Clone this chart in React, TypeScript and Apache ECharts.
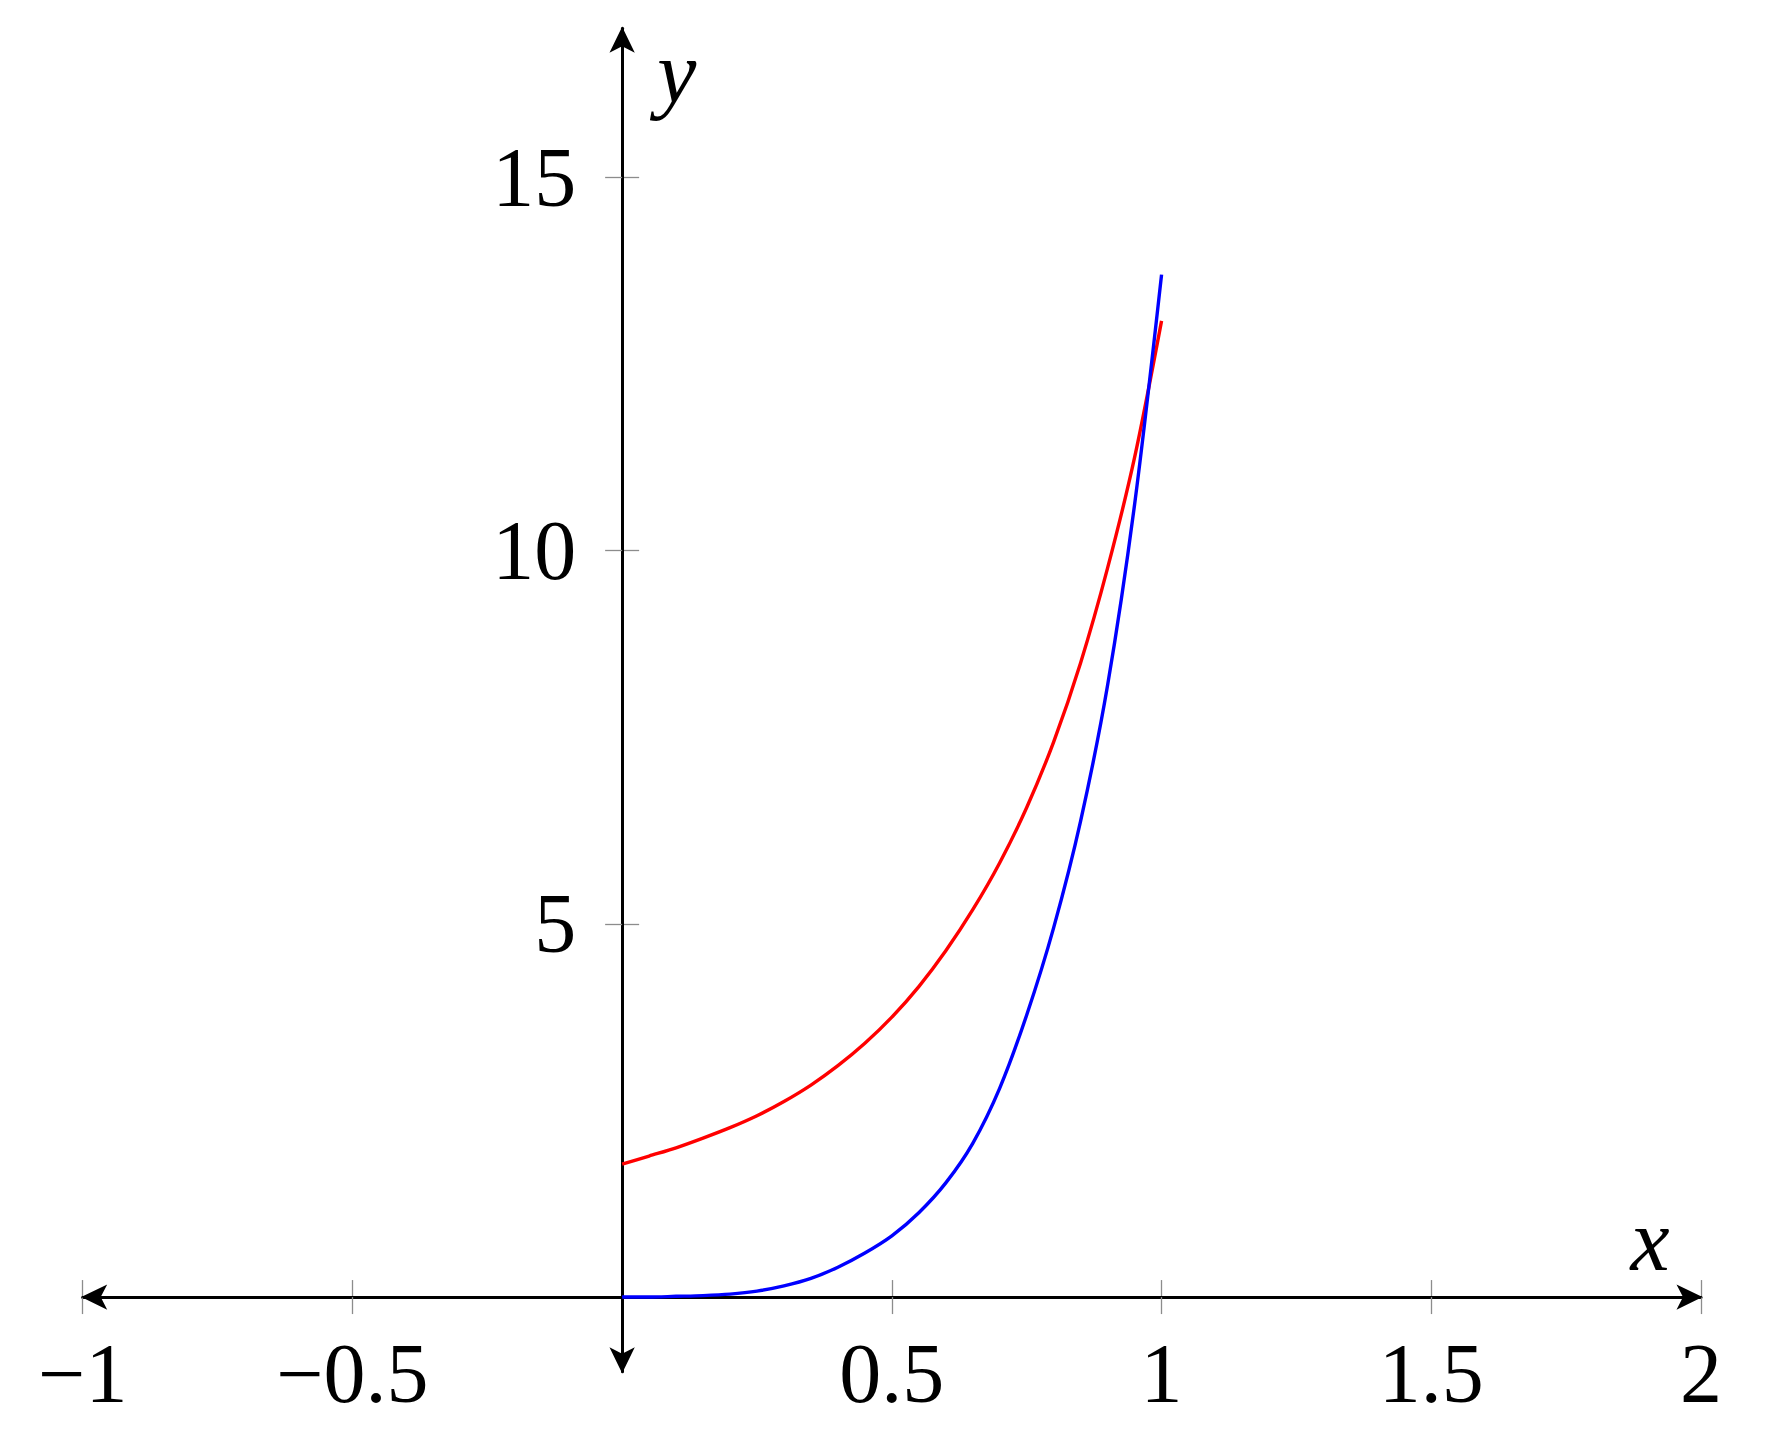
import React, { useEffect, useRef } from "react";
import * as echarts from "echarts";

// ---- data ----
const xValues = [0, 0.05, 0.1, 0.15, 0.2, 0.25, 0.3, 0.35, 0.4, 0.45, 0.5, 0.55, 0.6, 0.65, 0.7, 0.75, 0.8, 0.85, 0.9, 0.95, 1.0];
const redValues = [1.78, 1.89, 2.0, 2.13, 2.27, 2.43, 2.62, 2.84, 3.1, 3.4, 3.75, 4.16, 4.64, 5.19, 5.82, 6.56, 7.44, 8.5, 9.77, 11.25, 13.08];
const blueValues = [0, 0.0, 0.01, 0.02, 0.04, 0.08, 0.15, 0.25, 0.4, 0.59, 0.82, 1.13, 1.53, 2.06, 2.8, 3.78, 4.95, 6.38, 8.2, 10.62, 13.7];
const xTickValues = [-1, -0.5, 0.5, 1, 1.5, 2];
const yTickValues = [5, 10, 15];
const xRange = [-1, 2];
const yRange = [-1, 17];
const xName = "x";
const yName = "y";

const FONT = "'Liberation Serif', 'Times New Roman', serif";

const W = 1765;
const H = 1453;
const GRID = { left: 82.7, right: 64, top: 28.3, bottom: 81.3 };
const gridW = W - GRID.left - GRID.right;
const gridH = H - GRID.top - GRID.bottom;
// place the axes through the origin using the axis scales
const xAxisOffset = -((0 - yRange[0]) / (yRange[1] - yRange[0])) * gridH;
const yAxisOffset = -((0 - xRange[0]) / (xRange[1] - xRange[0])) * gridW;

const fmt = (v: number) => (v < 0 ? "\u2212" + String(Math.abs(v)) : String(v));

const tickStyle = { color: "#8c8c8c", width: 1.3 };

const mainAxisLine = {
  show: true,
  onZero: false,
  symbol: ["arrow", "arrow"],
  symbolSize: [19, 26],
  symbolOffset: [-1.5, 1.5],
  lineStyle: { color: "#000", width: 3 },
};

const ghostAxisLine = {
  show: true,
  onZero: false,
  symbol: "none",
  lineStyle: { color: "#000", width: 1, opacity: 0 },
};

const labelStyle = {
  color: "#000",
  fontSize: 84,
  fontFamily: FONT,
  formatter: fmt,
  showMinLabel: true,
  showMaxLabel: true,
};

export default function App() {
  const ref = useRef<HTMLDivElement>(null);

  useEffect(() => {
    if (!ref.current) return;
    const chart = echarts.init(ref.current, undefined, { renderer: "svg" });
    chart.setOption({
      animation: false,
      backgroundColor: "#ffffff",
      grid: {
        left: GRID.left,
        right: GRID.right,
        top: GRID.top,
        bottom: GRID.bottom,
        containLabel: false,
        outerBoundsMode: "none",
      },
      xAxis: [
        {
          type: "value",
          min: xRange[0],
          max: xRange[1],
          position: "bottom",
          offset: xAxisOffset,
          z: 2,
          axisLine: mainAxisLine,
          axisTick: { show: true, customValues: xTickValues, length: 17, lineStyle: tickStyle },
          axisLabel: { ...labelStyle, customValues: xTickValues, margin: 34 },
          splitLine: { show: false },
          name: xName,
          nameLocation: "end",
          nameGap: -51,
          nameTextStyle: {
            fontFamily: FONT,
            fontStyle: "italic",
            fontSize: 88,
            color: "#000",
            align: "center",
            verticalAlign: "bottom",
            padding: [0, 0, 13, 0],
          },
        },
        {
          type: "value",
          min: xRange[0],
          max: xRange[1],
          position: "bottom",
          offset: xAxisOffset,
          z: 1,
          axisLine: ghostAxisLine,
          axisTick: { show: true, inside: true, customValues: xTickValues, length: 17, lineStyle: tickStyle },
          axisLabel: { show: false },
          splitLine: { show: false },
        },
      ],
      yAxis: [
        {
          type: "value",
          min: yRange[0],
          max: yRange[1],
          position: "left",
          offset: yAxisOffset,
          z: 2,
          axisLine: mainAxisLine,
          axisTick: { show: true, customValues: yTickValues, length: 17, lineStyle: tickStyle },
          axisLabel: { ...labelStyle, customValues: yTickValues, margin: 46 },
          splitLine: { show: false },
          name: yName,
          nameLocation: "end",
          nameGap: 0,
          nameTextStyle: {
            fontFamily: FONT,
            fontStyle: "italic",
            fontSize: 88,
            color: "#000",
            align: "left",
            verticalAlign: "top",
            padding: [0, 0, 0, 35],
          },
        },
        {
          type: "value",
          min: yRange[0],
          max: yRange[1],
          position: "left",
          offset: yAxisOffset,
          z: 1,
          axisLine: ghostAxisLine,
          axisTick: { show: true, inside: true, customValues: yTickValues, length: 17, lineStyle: tickStyle },
          axisLabel: { show: false },
          splitLine: { show: false },
        },
      ],
      series: [
        {
          type: "line",
          xAxisIndex: 0,
          yAxisIndex: 0,
          data: xValues.map((x, i) => [x, redValues[i]]),
          showSymbol: false,
          symbol: "none",
          smooth: 0.3,
          lineStyle: { color: "#ff0000", width: 3.4 },
          itemStyle: { color: "#ff0000" },
          z: 3,
        },
        {
          type: "line",
          xAxisIndex: 0,
          yAxisIndex: 0,
          data: xValues.map((x, i) => [x, blueValues[i]]),
          showSymbol: false,
          symbol: "none",
          smooth: 0.3,
          lineStyle: { color: "#0000ff", width: 3.4 },
          itemStyle: { color: "#0000ff" },
          z: 4,
        },
      ],
    });
    return () => chart.dispose();
  }, []);

  return (
    <div
      ref={ref}
      style={{ position: "absolute", left: 0, top: 0, width: W, height: H, background: "#fff" }}
    />
  );
}
